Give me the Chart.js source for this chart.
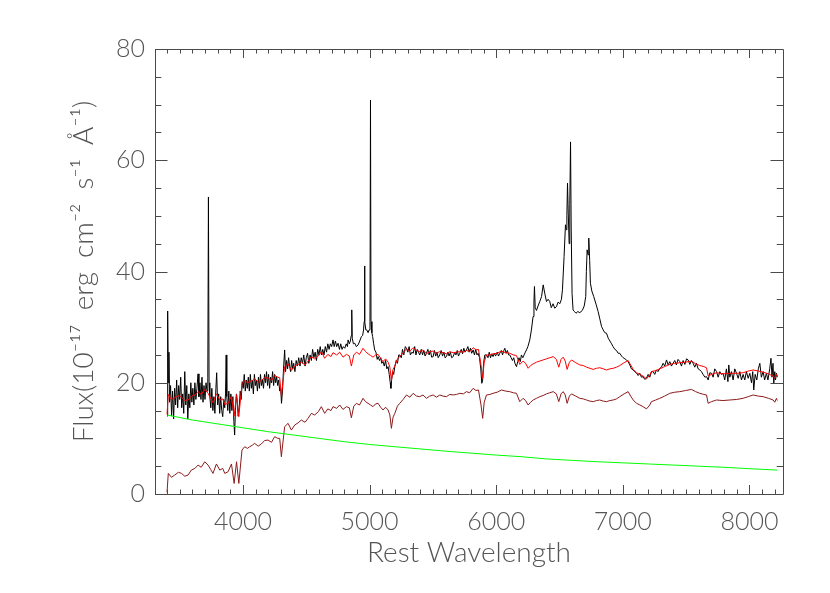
<!DOCTYPE html>
<html>
<head>
<meta charset="utf-8">
<script src="https://cdn.jsdelivr.net/npm/chart.js@4.4.0/dist/chart.umd.min.js"></script>
<style>
  html, body { margin: 0; padding: 0; background: #fff; }
  #wrap { width: 830px; height: 593px; }
</style>
</head>
<body>
<div id="wrap"><canvas id="spectrum" width="830" height="593"></canvas></div>
<script>
// observed spectrum (black)
const obsWave = [
  3400, 3405, 3410, 3415, 3420, 3428, 3436, 3444, 3452, 3460, 3468, 3476, 3484, 3492, 3500, 3508, 3516, 3524, 3532, 3540,
  3548, 3556, 3564, 3572, 3580, 3588, 3596, 3604, 3612, 3620, 3628, 3636, 3645, 3652, 3660, 3668, 3676, 3684, 3692, 3700,
  3708, 3716, 3722, 3727, 3732, 3738, 3746, 3754, 3762, 3770, 3778, 3786, 3792, 3800, 3808, 3816, 3824, 3832, 3840, 3848,
  3856, 3862, 3867, 3872, 3880, 3888, 3896, 3904, 3912, 3920, 3928, 3934, 3940, 3948, 3955, 3962, 3970, 3978, 3986, 3994,
  4002, 4010, 4018, 4026, 4034, 4042, 4050, 4058, 4066, 4074, 4082, 4090, 4098, 4106, 4114, 4122, 4130, 4138, 4146, 4154,
  4162, 4170, 4178, 4186, 4194, 4202, 4210, 4218, 4226, 4234, 4242, 4250, 4258, 4266, 4274, 4282, 4290, 4298, 4304, 4312,
  4320, 4329, 4336, 4344, 4352, 4360, 4368, 4376, 4384, 4392, 4400, 4410, 4420, 4430, 4440, 4450, 4460, 4470, 4480, 4490,
  4500, 4510, 4520, 4530, 4540, 4550, 4560, 4570, 4580, 4590, 4600, 4610, 4620, 4630, 4640, 4650, 4660, 4670, 4680, 4690,
  4700, 4711, 4720, 4730, 4740, 4751, 4762, 4772, 4782, 4792, 4804, 4815, 4825, 4830, 4840, 4848, 4855, 4859, 4863, 4872,
  4883, 4895, 4909, 4922, 4935, 4945, 4952, 4957, 4960, 4963, 4970, 4978, 4988, 4996, 5003, 5007, 5011, 5018, 5024, 5032,
  5040, 5050, 5060, 5067, 5078, 5088, 5096, 5106, 5116, 5126, 5136, 5146, 5155, 5163, 5168, 5174, 5182, 5190, 5199, 5210,
  5220, 5230, 5238, 5250, 5260, 5270, 5282, 5291, 5302, 5312, 5322, 5334, 5344, 5356, 5366, 5376, 5386, 5396, 5408, 5418,
  5428, 5438, 5449, 5460, 5470, 5480, 5490, 5502, 5512, 5522, 5532, 5542, 5554, 5565, 5576, 5587, 5596, 5607, 5618, 5628,
  5638, 5648, 5660, 5672, 5682, 5692, 5702, 5712, 5724, 5734, 5744, 5754, 5765, 5776, 5786, 5796, 5806, 5818, 5828, 5838,
  5848, 5857, 5868, 5878, 5886, 5893, 5900, 5910, 5923, 5935, 5945, 5955, 5965, 5975, 5985, 5995, 6008, 6018, 6028, 6040,
  6050, 6060, 6068, 6078, 6088, 6098, 6107, 6118, 6128, 6138, 6148, 6160, 6170, 6180, 6190, 6199, 6210, 6220, 6230, 6239,
  6250, 6265, 6278, 6291, 6298, 6302, 6308, 6318, 6330, 6344, 6358, 6371, 6384, 6397, 6410, 6423, 6435, 6449, 6462, 6476,
  6489, 6502, 6515, 6523, 6536, 6547, 6553, 6558, 6563, 6569, 6576, 6581, 6587, 6592, 6599, 6607, 6618, 6630, 6645, 6660,
  6680, 6695, 6707, 6712, 6718, 6725, 6731, 6738, 6744, 6755, 6770, 6790, 6805, 6818, 6832, 6845, 6858, 6871, 6885, 6898,
  6911, 6923, 6937, 6950, 6963, 6976, 6990, 7003, 7016, 7029, 7042, 7055, 7068, 7081, 7095, 7108, 7121, 7134, 7147, 7160,
  7173, 7186, 7200, 7213, 7226, 7239, 7252, 7265, 7278, 7292, 7305, 7318, 7331, 7345, 7358, 7371, 7384, 7397, 7410, 7423,
  7436, 7450, 7463, 7476, 7490, 7503, 7516, 7529, 7542, 7555, 7568, 7581, 7595, 7608, 7621, 7634, 7648, 7661, 7674, 7687,
  7700, 7713, 7726, 7740, 7753, 7766, 7779, 7792, 7805, 7818, 7830, 7837, 7845, 7858, 7871, 7884, 7898, 7911, 7924, 7937,
  7950, 7963, 7976, 7990, 8003, 8016, 8026, 8034, 8045, 8058, 8070, 8082, 8094, 8108, 8120, 8134, 8146, 8160, 8170, 8178,
  8186, 8192, 8200, 8206, 8213, 8220
];
const obsFlux = [
  14.0, 32.9, 20.0, 25.5, 16.5, 19.5, 14.0, 18.5, 13.5, 19.0, 16.0, 20.5, 15.5, 19.5, 17.0, 21.0, 15.5, 18.0, 14.5, 22.0,
  16.0, 19.5, 13.5, 18.0, 15.5, 20.0, 16.5, 19.0, 16.0, 20.0, 17.0, 19.0, 21.6, 17.5, 20.0, 17.0, 21.0, 16.5, 19.5, 17.0,
  20.0, 18.5, 21.0, 53.4, 20.0, 17.5, 15.5, 19.0, 15.0, 17.5, 14.5, 19.0, 21.8, 16.0, 18.0, 14.5, 17.5, 15.0, 13.9, 17.0,
  15.5, 18.0, 25.0, 17.5, 15.0, 18.5, 14.5, 18.0, 15.0, 17.5, 13.0, 10.6, 15.0, 18.0, 16.5, 14.0, 15.5, 18.5, 17.0, 20.2,
  19.0, 21.5, 18.5, 20.5, 19.0, 21.0, 18.5, 21.5, 19.0, 20.5, 18.0, 21.5, 19.5, 20.5, 18.5, 21.0, 19.0, 21.5, 19.5, 20.5,
  19.0, 21.5, 20.0, 22.0, 19.5, 21.5, 19.0, 21.0, 20.0, 22.0, 19.5, 21.5, 20.0, 21.0, 19.5, 20.5, 18.5, 19.0, 16.3, 18.5,
  22.5, 25.9, 22.0, 24.0, 22.5, 24.5, 23.0, 22.0, 24.0, 22.5, 23.5, 22.0, 24.0, 23.0, 24.5, 23.0, 24.5, 23.5, 25.0, 23.0,
  24.5, 25.3, 23.5, 25.0, 24.0, 26.0, 24.5, 25.5, 24.0, 26.0, 25.0, 26.5, 25.0, 26.0, 25.0, 26.5, 25.5, 27.0, 26.0, 27.0,
  26.5, 27.7, 26.5, 27.5, 26.5, 27.1, 26.0, 27.0, 26.0, 26.5, 26.2, 27.0, 26.5, 27.7, 27.0, 27.5, 28.5, 33.1, 28.0, 27.0,
  27.1, 26.5, 26.8, 27.5, 28.3, 28.5, 29.5, 31.0, 41.0, 31.0, 29.5, 29.5, 29.0, 29.5, 31.0, 70.8, 31.0, 29.0, 28.3, 27.0,
  25.9, 25.5, 24.2, 24.7, 24.0, 24.5, 23.5, 23.8, 23.0, 24.0, 22.5, 22.9, 21.5, 20.0, 19.0, 20.5, 22.0, 21.5, 22.9, 24.0,
  23.5, 25.0, 25.0, 24.5, 26.0, 25.0, 26.5, 26.2, 25.5, 26.5, 25.0, 25.5, 25.3, 26.5, 25.0, 26.0, 25.5, 25.0, 26.0, 25.0,
  25.8, 24.8, 25.3, 26.0, 25.0, 25.8, 24.6, 24.7, 25.8, 24.8, 25.5, 24.5, 25.0, 25.8, 24.8, 25.5, 24.5, 24.7, 25.5, 24.8,
  25.5, 24.5, 24.7, 25.5, 25.0, 25.8, 24.8, 25.3, 26.0, 25.2, 26.2, 25.5, 25.9, 26.5, 25.5, 26.2, 25.3, 25.9, 25.0, 26.0,
  25.0, 25.3, 24.5, 22.5, 19.9, 20.5, 23.5, 25.0, 25.0, 24.5, 25.5, 24.5, 25.2, 24.7, 25.3, 24.8, 25.5, 24.8, 25.3, 25.8,
  25.0, 25.8, 26.2, 25.3, 25.8, 25.0, 25.0, 24.5, 24.0, 24.5, 23.5, 22.9, 23.8, 24.5, 23.8, 25.0, 24.5, 25.0, 25.5, 25.9,
  26.5, 27.7, 29.5, 31.9, 34.5, 37.3, 33.5, 33.0, 33.8, 34.6, 35.5, 37.6, 36.0, 34.6, 35.0, 34.6, 33.5, 34.2, 33.4, 33.7,
  34.5, 34.2, 35.0, 36.7, 42.7, 48.4, 47.5, 50.0, 55.9, 50.5, 45.0, 52.0, 63.3, 48.0, 36.0, 33.1, 32.8, 32.5, 32.8, 32.6,
  33.0, 33.8, 35.5, 40.0, 43.9, 43.0, 46.0, 42.0, 37.9, 36.5, 35.5, 34.0, 32.8, 31.5, 30.1, 29.5, 29.0, 28.9, 28.0, 27.5,
  27.0, 26.5, 26.0, 25.8, 25.3, 25.3, 24.8, 24.5, 24.3, 24.1, 23.8, 23.2, 22.5, 22.3, 22.0, 21.7, 21.3, 21.7, 21.0, 21.1,
  20.6, 20.8, 21.5, 21.0, 22.0, 22.0, 21.5, 22.3, 22.0, 22.6, 22.8, 23.5, 23.0, 24.1, 23.2, 23.8, 23.0, 23.5, 24.0, 23.2,
  24.2, 23.8, 23.0, 24.0, 23.3, 24.3, 24.1, 23.3, 24.0, 23.5, 22.8, 23.5, 22.5, 22.3, 22.0, 21.5, 21.0, 21.1, 20.5, 21.8,
  21.7, 21.0, 22.5, 22.0, 21.0, 22.0, 21.5, 21.7, 20.5, 22.5, 20.2, 23.2, 21.0, 22.0, 20.5, 22.5, 21.7, 20.8, 22.0, 20.5,
  21.5, 20.5, 22.0, 20.8, 21.7, 20.0, 22.0, 18.7, 21.5, 20.5, 22.5, 23.5, 21.0, 22.0, 20.5, 21.7, 20.5, 22.5, 24.4, 21.0,
  23.5, 19.9, 22.0, 20.5, 21.7, 21.0
];

// fitted model (red) and host galaxy component (dark red)
const fitWave = [
  3400, 3410, 3435, 3460, 3490, 3515, 3540, 3566, 3592, 3620, 3645, 3670, 3698, 3724, 3745, 3763, 3790, 3817, 3840, 3856,
  3882, 3909, 3930, 3949, 3967, 3992, 4013, 4035, 4053, 4075, 4092, 4120, 4145, 4170, 4197, 4225, 4250, 4275, 4290, 4303,
  4329, 4356, 4382, 4409, 4435, 4461, 4490, 4514, 4540, 4566, 4595, 4619, 4645, 4670, 4695, 4711, 4740, 4764, 4790, 4817,
  4840, 4856, 4875, 4896, 4920, 4948, 4968, 4988, 5008, 5027, 5047, 5067, 5087, 5106, 5126, 5146, 5160, 5172, 5185, 5199,
  5220, 5238, 5265, 5291, 5318, 5344, 5370, 5396, 5422, 5449, 5475, 5502, 5528, 5554, 5580, 5607, 5633, 5660, 5686, 5712,
  5740, 5765, 5790, 5818, 5840, 5860, 5880, 5893, 5905, 5923, 5950, 5975, 6008, 6041, 6075, 6107, 6135, 6160, 6186, 6212,
  6232, 6252, 6272, 6292, 6318, 6344, 6370, 6397, 6423, 6450, 6475, 6494, 6512, 6529, 6545, 6560, 6578, 6595, 6628, 6660,
  6687, 6713, 6740, 6766, 6792, 6818, 6845, 6871, 6898, 6924, 6950, 6976, 7010, 7042, 7062, 7082, 7108, 7135, 7160, 7187,
  7213, 7226, 7260, 7292, 7330, 7371, 7410, 7450, 7495, 7542, 7575, 7608, 7640, 7661, 7674, 7700, 7740, 7790, 7845, 7900,
  7950, 7990, 8029, 8070, 8108, 8150, 8187, 8200, 8213, 8220
];
const modelFlux = [
  14.3, 17.9, 17.0, 17.3, 17.7, 17.4, 16.8, 16.9, 17.6, 17.8, 18.4, 17.9, 18.8, 18.1, 17.2, 16.4, 18.0, 16.9, 17.1, 16.1,
  16.3, 17.6, 14.0, 17.9, 13.9, 19.8, 20.4, 20.0, 20.2, 20.4, 20.7, 20.1, 20.4, 20.9, 20.9, 20.4, 21.3, 21.0, 20.9, 17.6,
  22.9, 23.4, 22.2, 23.0, 23.3, 23.7, 23.2, 23.9, 24.7, 24.3, 24.8, 25.6, 24.4, 25.1, 24.7, 25.4, 25.0, 25.5, 24.6, 25.1,
  24.8, 23.0, 25.0, 25.5, 25.1, 26.2, 25.6, 25.2, 24.9, 24.6, 25.0, 25.1, 24.4, 23.8, 24.3, 23.7, 22.8, 20.4, 22.4, 23.0,
  24.3, 24.7, 25.4, 26.1, 25.7, 26.3, 25.8, 25.6, 25.9, 25.2, 25.6, 25.7, 25.3, 25.6, 25.4, 25.2, 25.6, 25.4, 25.5, 25.6,
  25.5, 25.8, 25.6, 26.3, 25.9, 26.0, 23.2, 20.8, 23.7, 25.0, 25.0, 25.2, 25.3, 25.7, 25.4, 25.3, 25.0, 24.9, 23.3, 23.9,
  23.5, 22.6, 23.1, 23.4, 23.7, 23.9, 24.1, 24.3, 24.5, 24.7, 24.2, 22.8, 24.2, 24.6, 23.9, 22.4, 23.7, 24.1, 23.6, 23.2,
  23.1, 22.8, 22.6, 22.4, 22.6, 22.7, 22.5, 22.3, 22.5, 22.6, 22.8, 23.1, 23.6, 24.0, 23.2, 22.4, 21.8, 21.5, 21.2, 20.7,
  21.4, 22.0, 22.2, 22.5, 22.9, 23.3, 23.5, 23.6, 23.7, 23.9, 23.4, 23.1, 22.9, 22.7, 21.2, 21.5, 21.8, 21.6, 21.7, 21.7,
  21.8, 22.1, 22.3, 22.1, 21.9, 21.6, 21.2, 20.8, 21.5, 21.1
];
const hostFlux = [
  0.3, 3.7, 3.0, 3.4, 3.9, 3.7, 3.2, 3.4, 4.3, 4.6, 5.2, 4.8, 5.8, 5.2, 4.4, 3.7, 5.4, 4.3, 4.6, 3.7,
  4.0, 5.4, 1.9, 5.8, 1.9, 7.9, 8.5, 8.2, 8.5, 8.8, 9.1, 8.6, 9.0, 9.6, 9.7, 9.3, 10.3, 10.0, 10.0, 6.7,
  12.1, 12.7, 11.5, 12.4, 12.8, 13.3, 12.9, 13.6, 14.5, 14.2, 14.8, 15.7, 14.5, 15.3, 15.0, 15.7, 15.4, 16.0, 15.2, 15.7,
  15.5, 13.7, 15.8, 16.3, 16.0, 17.2, 16.6, 16.3, 16.0, 15.7, 16.2, 16.3, 15.6, 15.1, 15.6, 15.1, 14.2, 11.8, 13.8, 14.5,
  15.8, 16.3, 17.0, 17.8, 17.4, 18.1, 17.6, 17.5, 17.8, 17.2, 17.6, 17.8, 17.4, 17.8, 17.6, 17.5, 17.9, 17.8, 17.9, 18.1,
  18.0, 18.4, 18.2, 19.0, 18.6, 18.7, 16.0, 13.6, 16.5, 17.8, 17.9, 18.1, 18.3, 18.7, 18.5, 18.4, 18.2, 18.1, 16.6, 17.2,
  16.8, 16.0, 16.5, 16.9, 17.2, 17.5, 17.7, 18.0, 18.2, 18.4, 18.0, 16.6, 18.0, 18.4, 17.8, 16.3, 17.6, 18.0, 17.6, 17.2,
  17.1, 16.9, 16.7, 16.6, 16.8, 16.9, 16.7, 16.6, 16.8, 16.9, 17.1, 17.5, 18.0, 18.4, 17.6, 16.9, 16.3, 16.0, 15.7, 15.3,
  16.0, 16.6, 16.9, 17.2, 17.6, 18.1, 18.3, 18.4, 18.6, 18.8, 18.4, 18.1, 17.9, 17.8, 16.3, 16.6, 16.9, 16.8, 16.9, 17.0,
  17.2, 17.5, 17.8, 17.6, 17.5, 17.2, 16.9, 16.5, 17.2, 16.8
];

// power-law continuum (green)
const plWave = [3400, 3600, 3800, 4000, 4200, 4400, 4600, 4800, 5000, 5200, 5400, 5600, 5800, 6000, 6200, 6400, 6600, 6800, 7000, 7200, 7400, 7600, 7800, 8000, 8220];
const plFlux = [14.2, 13.3, 12.6, 11.9, 11.2, 10.6, 10.0, 9.4, 8.9, 8.5, 8.1, 7.7, 7.35, 7.0, 6.7, 6.3, 6.05, 5.8, 5.6, 5.4, 5.2, 5.0, 4.8, 4.55, 4.3];

const xTickValues = [4000, 5000, 6000, 7000, 8000];
const yTickValues = [0, 20, 40, 60, 80];

const axisColor = '#4a4a4a';
const labelColor = '#555555';
const fontFamily = "Lato, 'DejaVu Sans', sans-serif";

function toPoints(xs, ys) {
	return xs.map((x, i) => ({ x: x, y: ys[i] }));
}

// IDL style box: frame on all four sides with inward major and minor ticks
const idlFrame = {
	id: 'idlFrame',
	afterDatasetsDraw(chart) {
		const { ctx, chartArea: a, scales } = chart;
		const xs = scales.x;
		const ys = scales.y;
		ctx.save();
		ctx.strokeStyle = axisColor;
		ctx.lineWidth = 1;
		ctx.beginPath();
		ctx.rect(Math.round(a.left) + 0.5, Math.round(a.top) + 0.5, Math.round(a.right - a.left), Math.round(a.bottom - a.top));
		for (let v = Math.ceil(xs.min / 100) * 100; v <= xs.max; v += 100) {
			const px = Math.round(xs.getPixelForValue(v)) + 0.5;
			const len = v % 1000 === 0 ? 9 : 4.5;
			ctx.moveTo(px, a.bottom);
			ctx.lineTo(px, a.bottom - len);
			ctx.moveTo(px, a.top);
			ctx.lineTo(px, a.top + len);
		}
		for (let v = ys.min; v <= ys.max; v += 5) {
			const py = Math.round(ys.getPixelForValue(v)) + 0.5;
			const len = v % 20 === 0 ? 12.5 : 6.3;
			ctx.moveTo(a.left, py);
			ctx.lineTo(a.left + len, py);
			ctx.moveTo(a.right, py);
			ctx.lineTo(a.right - len, py);
		}
		ctx.stroke();
		ctx.restore();
	}
};

new Chart(document.getElementById('spectrum'), {
	type: 'line',
	data: {
		datasets: [
			{ label: 'Model', data: toPoints(fitWave, modelFlux), borderColor: '#ff0000', order: 0 },
			{ label: 'Power law', data: toPoints(plWave, plFlux), borderColor: '#00ff00', order: 1 },
			{ label: 'Host', data: toPoints(fitWave, hostFlux), borderColor: '#8b1a1a', order: 2 },
			{ label: 'Observed', data: toPoints(obsWave, obsFlux), borderColor: '#000000', order: 3 }
		]
	},
	options: {
		responsive: false,
		animation: false,
		events: [],
		elements: {
			point: { radius: 0 },
			line: { borderWidth: 1, tension: 0, fill: false }
		},
		layout: { padding: { top: 49, right: 47, left: 0, bottom: 0 } },
		plugins: {
			legend: { display: false },
			tooltip: { enabled: false }
		},
		scales: {
			x: {
				type: 'linear',
				min: 3305,
				max: 8265,
				grid: { display: false, drawTicks: false },
				border: { display: false },
				afterFit: (scale) => { scale.height = 99; },
				afterBuildTicks: (scale) => { scale.ticks = xTickValues.map(v => ({ value: v })); },
				ticks: {
					padding: 13,
					color: labelColor,
					font: { family: fontFamily, size: 25, weight: 300 },
					callback: (value) => String(value)
				},
				title: {
					display: true,
					text: 'Rest Wavelength',
					color: labelColor,
					font: { family: fontFamily, size: 28, weight: 300 },
					padding: { top: 0, bottom: 23 }
				}
			},
			y: {
				type: 'linear',
				min: 0,
				max: 80,
				grid: { display: false, drawTicks: false },
				border: { display: false },
				afterFit: (scale) => { scale.width = 155; },
				afterBuildTicks: (scale) => { scale.ticks = yTickValues.map(v => ({ value: v })); },
				ticks: {
					padding: 10,
					color: labelColor,
					font: { family: fontFamily, size: 25, weight: 300 },
					callback: (value) => String(value)
				},
				title: {
					display: true,
					text: 'Flux(10⁻¹⁷\u2002erg\u2002cm⁻²\u2002s⁻¹\u2002Å⁻¹)',
					color: labelColor,
					font: { family: fontFamily, size: 28, weight: 300 },
					padding: { top: 67, bottom: 0 }
				}
			}
		}
	},
	plugins: [idlFrame]
});
</script>
</body>
</html>
